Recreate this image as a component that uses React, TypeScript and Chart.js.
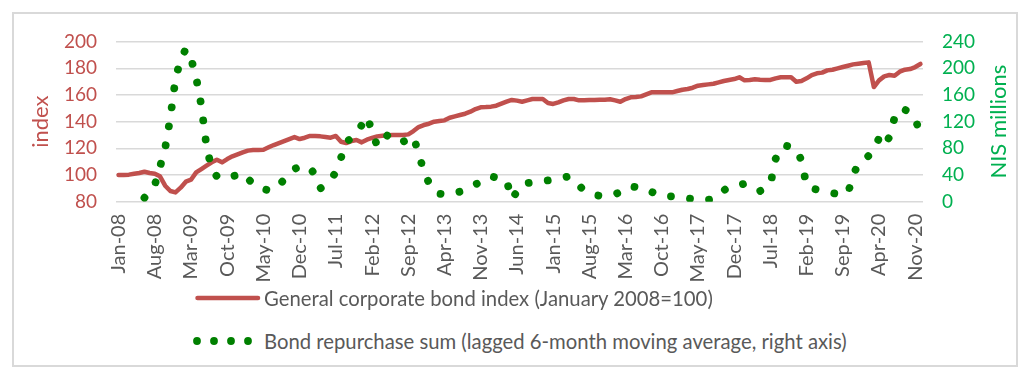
import React, { useEffect, useRef } from "react";
import { Chart, registerables } from "chart.js";

Chart.register(...registerables);

const MONTHS = ["Jan", "Feb", "Mar", "Apr", "May", "Jun", "Jul", "Aug", "Sep", "Oct", "Nov", "Dec"];
const YEARS = [2008, 2009, 2010, 2011, 2012, 2013, 2014, 2015, 2016, 2017, 2018, 2019, 2020];
const categories: string[] = [];
for (const y of YEARS) for (const m of MONTHS) categories.push(`${m}-${String(y).slice(2)}`);

const tickLabels = [
  "Jan-08", "Aug-08", "Mar-09", "Oct-09", "May-10", "Dec-10", "Jul-11", "Feb-12",
  "Sep-12", "Apr-13", "Nov-13", "Jun-14", "Jan-15", "Aug-15", "Mar-16", "Oct-16",
  "May-17", "Dec-17", "Jul-18", "Feb-19", "Sep-19", "Apr-20", "Nov-20",
];

// General corporate bond index (January 2008 = 100), monthly Jan-08 .. Dec-20
const bondIndex = [
  100, 100, 100.3, 101, 101.5, 102.5, 101.5, 101, 99, 92, 88, 87,
  90.5, 95, 96.5, 102, 104.5, 107, 109.5, 111.5, 109.5, 112, 114, 115.5,
  117, 118.3, 118.8, 118.8, 119, 120.8, 122.5, 124, 125.5, 127, 128.5, 127,
  128, 129.3, 129.3, 129, 128.5, 128, 129.3, 125, 124, 125.5, 126.3, 124.5,
  126.5, 127.8, 129, 129.5, 129.8, 130, 130, 130, 130.5, 133, 136, 137.5,
  138.5, 140, 140.5, 141, 143, 144, 145, 146, 147.5, 149.5, 150.8, 151,
  151.3, 152, 153.5, 155, 156.3, 155.8, 155, 156, 157, 157, 157, 154,
  153.3, 154.5, 156, 157, 157, 156, 156, 156.3, 156.3, 156.5, 156.5, 156.8,
  156, 155, 157, 158.3, 158.5, 159, 160.5, 162, 162, 162, 162, 162,
  163, 164, 164.5, 165.5, 167, 167.5, 168, 168.5, 169.5, 170.5, 171.3, 172,
  173.3, 171, 171.3, 171.8, 171.5, 171.3, 171.3, 172.5, 173.3, 173.3, 173.3, 170,
  170.5, 172.5, 175, 176.3, 176.8, 178.5, 179, 180, 181, 182, 183, 183.5,
  184, 184.5, 166, 171, 174, 175, 174.5, 177.5, 179, 179.5, 181, 183.3,
];

// Bond repurchase sum (lagged 6-month moving average), NIS millions
const repurchase: (number | null)[] = [
  null, null, null, null, null, 6, 17, 25, 52, 80, 126, 184,
  214, 229, 215, 186, 144, 83, 49, 38, 35, 38, 38, 40,
  43, 35, 26, 22, 19, 17, 18, 25, 33, 42, 49, 53,
  52, 51, 40, 20, 25, 32, 45, 66, 90, 95, 102, 115,
  128, 106, 83, 88, 100, 96, 90, 90, 94, 98, 72, 46,
  28, 15, 12, 11, 11, 13, 15, 18, 22, 26, 30, 36,
  38, 36, 34, 32, 4, 15, 27, 28, 29, 30, 31, 32,
  33, 34, 36, 38, 33, 24, 17, 13, 10, 9, 9, 10,
  11, 15, 21, 23, 22, 21, 20, 15, 11, 9, 8, 8,
  7.5, 7, 5, 4, 2.5, 3, 3, 4, 10, 17, 22, 24,
  25, 27, 25, 21, 16, 20, 26, 64, 82, 84, 82, 79,
  62, 24, 20, 18, 17, 15, 13, 11.5, 11, 13, 40, 57,
  62, 69, 80, 95, 84, 97, 126, 140, 138, 134, 125, 100,
];

const seriesNames = [
  "General corporate bond index (January 2008=100)",
  "Bond repurchase sum (lagged 6-month moving average, right axis)",
];
const leftTitle = "index";
const rightTitle = "NIS millions";

const RED = "#c0504d";
const GREEN_DOT = "#008000";
const GREEN_AXIS = "#00b050";
const GRAY_TEXT = "#595959";
const GRID = "#d9d9d9";
const FONT = "Lato";

const W = 1030;
const H = 290;
const PLOT_LEFT = 116;
const PLOT_RIGHT = 923;
const PLOT_TOP = 41.7;
const PLOT_BOTTOM = 201.7;

const axisTitlesPlugin = {
  id: "axisTitles",
  afterDraw(chart: any) {
    const { ctx, chartArea } = chart;
    const cy = (chartArea.top + chartArea.bottom) / 2;
    ctx.save();
    ctx.font = `22px ${FONT}`;
    ctx.textAlign = "center";
    ctx.textBaseline = "middle";
    ctx.fillStyle = RED;
    ctx.translate(41, cy);
    ctx.rotate(-Math.PI / 2);
    ctx.fillText(leftTitle, 0, 0);
    ctx.restore();
    ctx.save();
    ctx.font = `22px ${FONT}`;
    ctx.textAlign = "center";
    ctx.textBaseline = "middle";
    ctx.fillStyle = GREEN_AXIS;
    ctx.translate(999, cy);
    ctx.rotate(-Math.PI / 2);
    ctx.fillText(rightTitle, 0, 0);
    ctx.restore();
  },
};

export default function App() {
  const ref = useRef<HTMLCanvasElement>(null);

  useEffect(() => {
    if (!ref.current) return;
    const chart = new Chart(ref.current, {
      type: "line",
      data: {
        labels: categories,
        datasets: [
          {
            label: seriesNames[0],
            data: bondIndex,
            yAxisID: "y",
            borderColor: RED,
            backgroundColor: RED,
            borderWidth: 4.5,
            borderJoinStyle: "round",
            borderCapStyle: "round",
            pointRadius: 0,
            tension: 0,
            order: 2,
          },
          {
            label: seriesNames[1],
            data: repurchase,
            yAxisID: "y1",
            borderColor: GREEN_DOT,
            backgroundColor: GREEN_DOT,
            borderWidth: 7.8,
            borderDash: [0.01, 19.2],
            borderCapStyle: "round",
            borderJoinStyle: "round",
            pointRadius: 0,
            tension: 0,
            spanGaps: false,
            order: 1,
          },
        ],
      },
      options: {
        responsive: false,
        animation: false,
        devicePixelRatio: 1,
        layout: { padding: { top: PLOT_TOP, left: 0, right: 0, bottom: 0 } },
        plugins: {
          legend: { display: false },
          tooltip: { enabled: false },
        },
        scales: {
          x: {
            type: "category",
            offset: true,
            grid: { display: false, drawTicks: false },
            border: { display: false },
            ticks: {
              autoSkip: false,
              minRotation: 90,
              maxRotation: 90,
              padding: 12,
              color: GRAY_TEXT,
              font: { family: FONT, size: 20 },
              callback: (_v: any, idx: number) => {
                const l = categories[idx];
                return tickLabels.includes(l) ? l : "";
              },
            },
            afterFit: (s: any) => {
              s.height = H - PLOT_BOTTOM;
            },
          },
          y: {
            position: "left",
            min: 80,
            max: 200,
            ticks: {
              stepSize: 20,
              color: RED,
              padding: 19,
              font: { family: FONT, size: 19 },
            },
            grid: { color: GRID, lineWidth: 1.5, drawTicks: false },
            border: { display: false },
            afterFit: (s: any) => {
              s.width = PLOT_LEFT;
            },
          },
          y1: {
            position: "right",
            min: 0,
            max: 240,
            ticks: {
              stepSize: 40,
              color: GREEN_AXIS,
              padding: 19,
              font: { family: FONT, size: 19 },
            },
            grid: { display: false, drawTicks: false },
            border: { display: false },
            afterFit: (s: any) => {
              s.width = W - PLOT_RIGHT;
            },
          },
        },
      },
      plugins: [axisTitlesPlugin],
    } as any);
    return () => chart.destroy();
  }, []);

  const textStyle: React.CSSProperties = {
    position: "absolute",
    left: 264,
    fontFamily: FONT,
    fontSize: 20.3,
    lineHeight: "24px",
    color: GRAY_TEXT,
    whiteSpace: "nowrap",
  };

  return (
    <div style={{ position: "absolute", left: 0, top: 0, width: W, height: 382, background: "#fff" }}>
      <div
        style={{
          position: "absolute",
          left: 12,
          top: 12,
          width: 1006,
          height: 355,
          border: `2px solid ${GRID}`,
          boxSizing: "border-box",
        }}
      />
      <canvas
        ref={ref}
        width={W}
        height={H}
        style={{ position: "absolute", left: 0, top: 0, width: W, height: H }}
      />
      <svg style={{ position: "absolute", left: 190, top: 290 }} width={72} height={16}>
        <line x1={7.5} y1={8} x2={68} y2={8} stroke={RED} strokeWidth={4.5} strokeLinecap="round" />
      </svg>
      <div style={{ ...textStyle, top: 286 }}>{seriesNames[0]}</div>
      <svg style={{ position: "absolute", left: 190, top: 333 }} width={72} height={16}>
        {[7, 24, 41, 58].map((cx) => (
          <circle key={cx} cx={cx} cy={8} r={3.9} fill={GREEN_DOT} />
        ))}
      </svg>
      <div style={{ ...textStyle, top: 329 }}>{seriesNames[1]}</div>
    </div>
  );
}
